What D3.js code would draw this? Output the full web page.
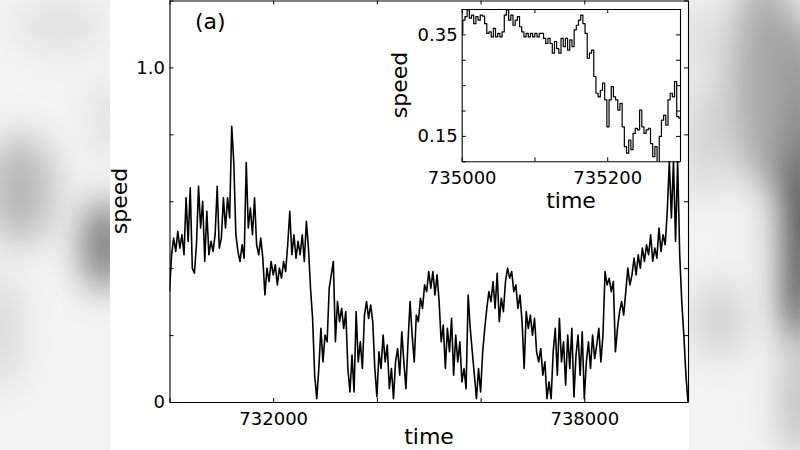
<!DOCTYPE html>
<html><head><meta charset="utf-8">
<script src="https://cdn.jsdelivr.net/npm/d3@7"></script>
<style>
body{margin:0;background:#fff;}
svg{display:block;}
text{font-family:"DejaVu Sans",sans-serif;fill:#000;}
</style>
</head><body>
<svg id="c" width="800" height="450"></svg>
<script>
// ---- data ----
const mainStart = 730000, mainStep = 40;
const mainSpeed = [
0.33,0.44,0.49,0.45,0.51,0.46,0.50,0.44,0.61,0.48,
0.64,0.40,0.385,0.47,0.645,0.52,0.60,0.42,0.57,0.44,
0.48,0.45,0.50,0.645,0.46,0.49,0.61,0.52,0.61,0.55,
0.824,0.716,0.50,0.45,0.42,0.47,0.43,0.716,0.52,0.58,
0.50,0.61,0.47,0.44,0.49,0.43,0.32,0.40,0.36,0.42,
0.38,0.41,0.35,0.40,0.37,0.42,0.39,0.47,0.57,0.44,
0.50,0.43,0.48,0.44,0.50,0.42,0.54,0.46,0.34,0.25,
0.08,0.01,0.10,0.22,0.12,0.20,0.18,0.34,0.38,0.42,
0.18,0.30,0.24,0.28,0.22,0.27,0.10,0.03,0.14,0.03,
0.27,0.12,0.18,0.10,0.26,0.30,0.25,0.29,0.24,0.10,
0.015,0.15,0.10,0.20,0.12,0.17,0.04,0.10,0.01,0.12,
0.16,0.08,0.21,0.12,0.04,0.18,0.30,0.20,0.12,0.26,
0.24,0.31,0.28,0.35,0.33,0.39,0.34,0.39,0.32,0.38,
0.30,0.18,0.23,0.10,0.22,0.15,0.25,0.08,0.20,0.12,
0.18,0.06,0.10,0.04,0.32,0.22,0.15,0.08,0.01,0.10,
0.03,0.15,0.22,0.28,0.33,0.30,0.36,0.28,0.385,0.24,
0.31,0.27,0.36,0.40,0.37,0.39,0.33,0.35,0.28,0.32,
0.24,0.10,0.27,0.22,0.26,0.20,0.25,0.15,0.12,0.16,
0.08,0.12,0.01,0.06,0.01,0.15,0.22,0.08,0.25,0.12,
0.18,0.05,0.20,0.10,0.22,0.015,0.14,0.20,0.08,0.21,
0.01,0.12,0.18,0.10,0.20,0.13,0.17,0.22,0.12,0.20,
0.39,0.35,0.37,0.33,0.36,0.15,0.22,0.27,0.30,0.26,
0.33,0.40,0.35,0.38,0.43,0.38,0.44,0.40,0.46,0.42,
0.47,0.44,0.50,0.42,0.46,0.43,0.52,0.45,0.50,0.47,
0.57,0.72,0.55,0.72,0.48,0.72,0.44,0.30,0.20,0.08,0.0
];
const insetStart = 735000, insetStep = 3;
const insetSpeed = [
0.352,0.378,0.385,0.398,0.382,0.388,0.371,0.385,0.378,0.388,
0.386,0.371,0.352,0.355,0.345,0.362,0.345,0.352,0.345,0.355,
0.388,0.398,0.378,0.388,0.368,0.378,0.385,0.365,0.355,0.345,
0.352,0.345,0.352,0.345,0.352,0.345,0.352,0.352,0.342,0.332,
0.342,0.332,0.313,0.336,0.322,0.313,0.342,0.326,0.342,0.319,
0.339,0.326,0.359,0.368,0.378,0.388,0.371,0.352,0.303,0.313,
0.319,0.267,0.234,0.227,0.240,0.254,0.221,0.168,0.221,0.247,
0.227,0.221,0.201,0.214,0.168,0.129,0.116,0.142,0.123,0.155,
0.165,0.162,0.201,0.168,0.155,0.162,0.165,0.135,0.109,0.129,
0.095,0.149,0.181,0.191,0.171,0.221,0.234,0.227,0.257,0.188,
0.185
];
const mainXTicks = [730000,732000,734000,736000,738000,740000];
const mainXTickLabels = ["","732000","","","738000",""];
const mainYTicks = [0,0.2,0.4,0.6,0.8,1.0,1.2];
const mainYTickLabels = ["0","","","","","1.0",""];
const insetXTicks = [735000,735100,735200,735300];
const insetXTickLabels = ["735000","","735200",""];
const insetYTicks = [0.10,0.15,0.20,0.25,0.30,0.35,0.40];
const insetYTickLabels = ["","0.15","","","","0.35",""];
const xLabel = "time", yLabel = "speed", panelLabel = "(a)";

// ---- drawing ----
const svg = d3.select("#c");
const defs = svg.append("defs");
defs.append("filter").attr("id","blur").attr("x","-50%").attr("y","-50%").attr("width","200%").attr("height","200%")
  .append("feGaussianBlur").attr("stdDeviation",18);

// blurred backdrop outside the figure panel
const bg = svg.append("g");
bg.append("rect").attr("width",800).attr("height",450).attr("fill","#f3f3f3");
const blobs = bg.append("g").attr("filter","url(#blur)");
[[20,190,35,55,"#b8b8b8"],[105,245,22,45,"#707070"],[60,25,45,25,"#e0e0e0"],
 [0,330,20,60,"#d8d8d8"],[110,120,15,40,"#dcdcdc"],
 [800,190,22,170,"#4a4a4a"],[765,80,35,110,"#a8a8a8"],[705,140,15,60,"#c8c8c8"],
 [720,320,25,40,"#cfcfcf"],[800,400,18,60,"#b8b8b8"],[745,230,18,50,"#f0f0f0"],[700,40,15,40,"#d6d6d6"]]
 .forEach(b=>blobs.append("ellipse").attr("cx",b[0]).attr("cy",b[1]).attr("rx",b[2]).attr("ry",b[3]).attr("fill",b[4]));
svg.append("rect").attr("x",110).attr("y",0).attr("width",579).attr("height",450).attr("fill","#fff");

function drawAxes(g, x, y, xt, xl, yt, yl, pad){
  const tl = 4;
  g.append("g").attr("transform",`translate(0,${y.range()[0]})`)
    .call(d3.axisBottom(x).tickValues(xt).tickFormat((d,i)=>xl[i]).tickSizeInner(-tl).tickSizeOuter(0).tickPadding(pad.x));
  g.append("g").attr("transform",`translate(0,${y.range()[1]})`)
    .call(d3.axisTop(x).tickValues(xt).tickFormat("").tickSizeInner(-tl).tickSizeOuter(0));
  g.append("g").attr("transform",`translate(${x.range()[0]},0)`)
    .call(d3.axisLeft(y).tickValues(yt).tickFormat((d,i)=>yl[i]).tickSizeInner(-tl).tickSizeOuter(0).tickPadding(pad.y));
  g.append("g").attr("transform",`translate(${x.range()[1]},0)`)
    .call(d3.axisRight(y).tickValues(yt).tickFormat("").tickSizeInner(-tl).tickSizeOuter(0));
  g.selectAll(".domain").attr("stroke","#000").attr("stroke-width",1.1);
  g.selectAll(".tick line").attr("stroke","#000").attr("stroke-width",1);
  g.selectAll(".tick text").attr("font-size",18).attr("font-family","DejaVu Sans").attr("fill","#000");
}

// main axes
const mx = d3.scaleLinear().domain([730000,740000]).range([169.5,688]);
const my = d3.scaleLinear().domain([0,1.2]).range([402,0.5]);
defs.append("clipPath").attr("id","cm").append("rect")
  .attr("x",169.5).attr("y",0.5).attr("width",518.5).attr("height",401.5);
const main = svg.append("g");
main.append("path").datum(mainSpeed).attr("clip-path","url(#cm)")
  .attr("fill","none").attr("stroke","#000").attr("stroke-width",1.6).attr("stroke-linejoin","round")
  .attr("d", d3.line().x((d,i)=>mx(mainStart+i*mainStep)).y(d=>my(d)));
drawAxes(main, mx, my, mainXTicks, mainXTickLabels, mainYTicks, mainYTickLabels, {x:10,y:4.5});
main.append("text").attr("x",429).attr("y",444).attr("text-anchor","middle").attr("font-size",22).text(xLabel);
main.append("text").attr("transform","translate(127,201) rotate(-90)").attr("text-anchor","middle").attr("font-size",22).text(yLabel);
main.append("text").attr("x",195).attr("y",29).attr("font-size",22).text(panelLabel);

// inset
const ix = d3.scaleLinear().domain([735000,735300]).range([461.7,680]);
const iy = d3.scaleLinear().domain([0.1,0.4]).range([161.3,9]);
const inset = svg.append("g");
inset.append("rect").attr("x",461.7).attr("y",9).attr("width",218.3).attr("height",152.3).attr("fill","#fff");
defs.append("clipPath").attr("id","ci").append("rect")
  .attr("x",461.7).attr("y",9).attr("width",218.3).attr("height",152.3);
inset.append("path").datum(insetSpeed).attr("clip-path","url(#ci)")
  .attr("fill","none").attr("stroke","#000").attr("stroke-width",1.2).attr("stroke-linejoin","round")
  .attr("d", d3.line().curve(d3.curveStep).x((d,i)=>ix(insetStart+i*insetStep)).y(d=>iy(d)));
drawAxes(inset, ix, iy, insetXTicks, insetXTickLabels, insetYTicks, insetYTickLabels, {x:10,y:4});
inset.append("text").attr("x",571).attr("y",208).attr("text-anchor","middle").attr("font-size",22).text(xLabel);
inset.append("text").attr("transform","translate(407,85) rotate(-90)").attr("text-anchor","middle").attr("font-size",22).text(yLabel);
</script>
</body></html>
